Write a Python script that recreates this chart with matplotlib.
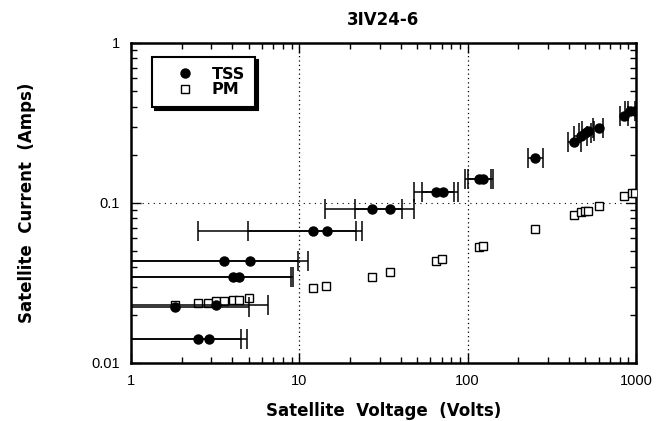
import matplotlib
matplotlib.use("Agg")
import matplotlib.pyplot as plt
from matplotlib.lines import Line2D
from matplotlib.ticker import LogLocator, NullFormatter, FixedFormatter, FixedLocator
import numpy as np

plt.rcParams['font.family'] = ['Liberation Sans', 'DejaVu Sans']

title = "3IV24-6"
xlabel = "Satellite  Voltage  (Volts)"
ylabel = "Satellite  Current  (Amps)"
legend_labels = ["TSS", "PM"]
x_ticks = [1, 10, 100, 1000]
x_ticklabels = ["1", "10", "100", "1000"]
y_ticks = [0.01, 0.1, 1]
y_ticklabels = ["0.01", "0.1", "1"]

# TSS (filled circles) with horizontal voltage error bars
tss_v = [1.83, 2.50, 2.91, 3.21, 3.58, 4.05, 4.39, 5.11, 12.1, 14.7, 27.2, 34.8,
         64.5, 71, 116, 123, 250, 428, 471, 497, 518, 602, 849, 921, 980]
tss_i = [0.0224, 0.0141, 0.0141, 0.0230, 0.0434, 0.0345, 0.0345, 0.0434, 0.0668, 0.0668,
         0.0917, 0.0917, 0.117, 0.117, 0.141, 0.141, 0.191, 0.240, 0.262, 0.274, 0.282,
         0.294, 0.350, 0.376, 0.376]
tss_v_lo = [0.3, 0.3, 0.3, 0.3, 0.3, 0.3, 0.3, 0.3, 2.50, 4.97, 14.3, 21.5,
            47.7, 53.2, 95.9, 101, 228, 394, 428, 460, 480, 555, 803, 860, 900]
tss_v_hi = [5.04, 4.52, 4.90, 6.54, 9.86, 8.95, 9.2, 11.3, 21.8, 23.7, 41.0, 47.7,
            82.5, 87.2, 137, 141, 279, 471, 510, 540, 560, 636, 900, 990, 1100]

# PM (open squares)
pm_v = [1.83, 2.50, 2.87, 3.21, 3.58, 4.05, 4.39, 5.04, 12.1, 14.5, 27.2, 34.8,
        64.5, 70, 116, 123, 250, 428, 471, 497, 518, 602, 849, 946, 990]
pm_i = [0.0230, 0.0237, 0.0237, 0.0244, 0.0244, 0.0248, 0.0248, 0.0255, 0.0294, 0.0303,
        0.0345, 0.0371, 0.0434, 0.0447, 0.0531, 0.0539, 0.0688, 0.0841, 0.0878, 0.0891,
        0.0891, 0.0958, 0.1106, 0.1155, 0.1155]

fig = plt.figure(figsize=(6.71, 4.21), dpi=100)
ax = fig.add_axes([0.195, 0.138, 0.753, 0.760])
ax.set_xscale('log')
ax.set_yscale('log')
ax.set_xlim(1, 1000)
ax.set_ylim(0.01, 1)

# sparse dotted reference lines
for xv in [10, 100]:
    ax.axvline(xv, color='black', lw=0.9, ls=(0, (1, 2.5)), zorder=1)
ax.axhline(0.1, color='black', lw=0.8, ls=(0, (1, 4)), zorder=1)

ax.plot(pm_v, pm_i, 's', mfc='white', mec='black', mew=1.0, ms=6, ls='none', zorder=3)
tv = np.array(tss_v)
xerr = [tv - np.array(tss_v_lo), np.array(tss_v_hi) - tv]
ax.errorbar(tss_v, tss_i, xerr=xerr, fmt='o', color='black', ms=6.5,
            elinewidth=1.1, capsize=7.5, capthick=1.1, zorder=4)

ax.xaxis.set_major_locator(FixedLocator(x_ticks))
ax.xaxis.set_major_formatter(FixedFormatter(x_ticklabels))
ax.yaxis.set_major_locator(FixedLocator(y_ticks))
ax.yaxis.set_major_formatter(FixedFormatter(y_ticklabels))
ax.xaxis.set_minor_locator(LogLocator(base=10, subs=np.arange(2, 10)))
ax.yaxis.set_minor_locator(LogLocator(base=10, subs=np.arange(2, 10)))
ax.xaxis.set_minor_formatter(NullFormatter())
ax.yaxis.set_minor_formatter(NullFormatter())
ax.tick_params(which='both', direction='in', top=True, right=True, width=1.0)
ax.tick_params(which='major', length=7, labelsize=10.5, pad=8)
ax.tick_params(which='minor', length=4)
for s in ax.spines.values():
    s.set_linewidth(1.8)

bold_font = {'family': 'DejaVu Sans', 'weight': 'bold'}
ax.set_title(title, fontsize=12, pad=13, **bold_font)
ax.set_xlabel(xlabel, fontsize=12, labelpad=10, **bold_font)
ax.set_ylabel(ylabel, fontsize=12, labelpad=40, **bold_font)

handles = [Line2D([], [], marker='o', ls='none', color='black', ms=6.5),
           Line2D([], [], marker='s', ls='none', mfc='white', mec='black', mew=1.0, ms=6)]
leg = ax.legend(handles, legend_labels, loc='upper left', bbox_to_anchor=(0.042, 0.956),
                borderaxespad=0, frameon=True, fancybox=False, edgecolor='black',
                prop={'family': 'DejaVu Sans', 'weight': 'bold', 'size': 11.5},
                handletextpad=0.25, labelspacing=0.05,
                borderpad=0.6, handlelength=2.9,
                shadow={'color': 'black', 'alpha': 1})
leg.get_frame().set_linewidth(1.5)

fig.savefig('out.png', dpi=100)
